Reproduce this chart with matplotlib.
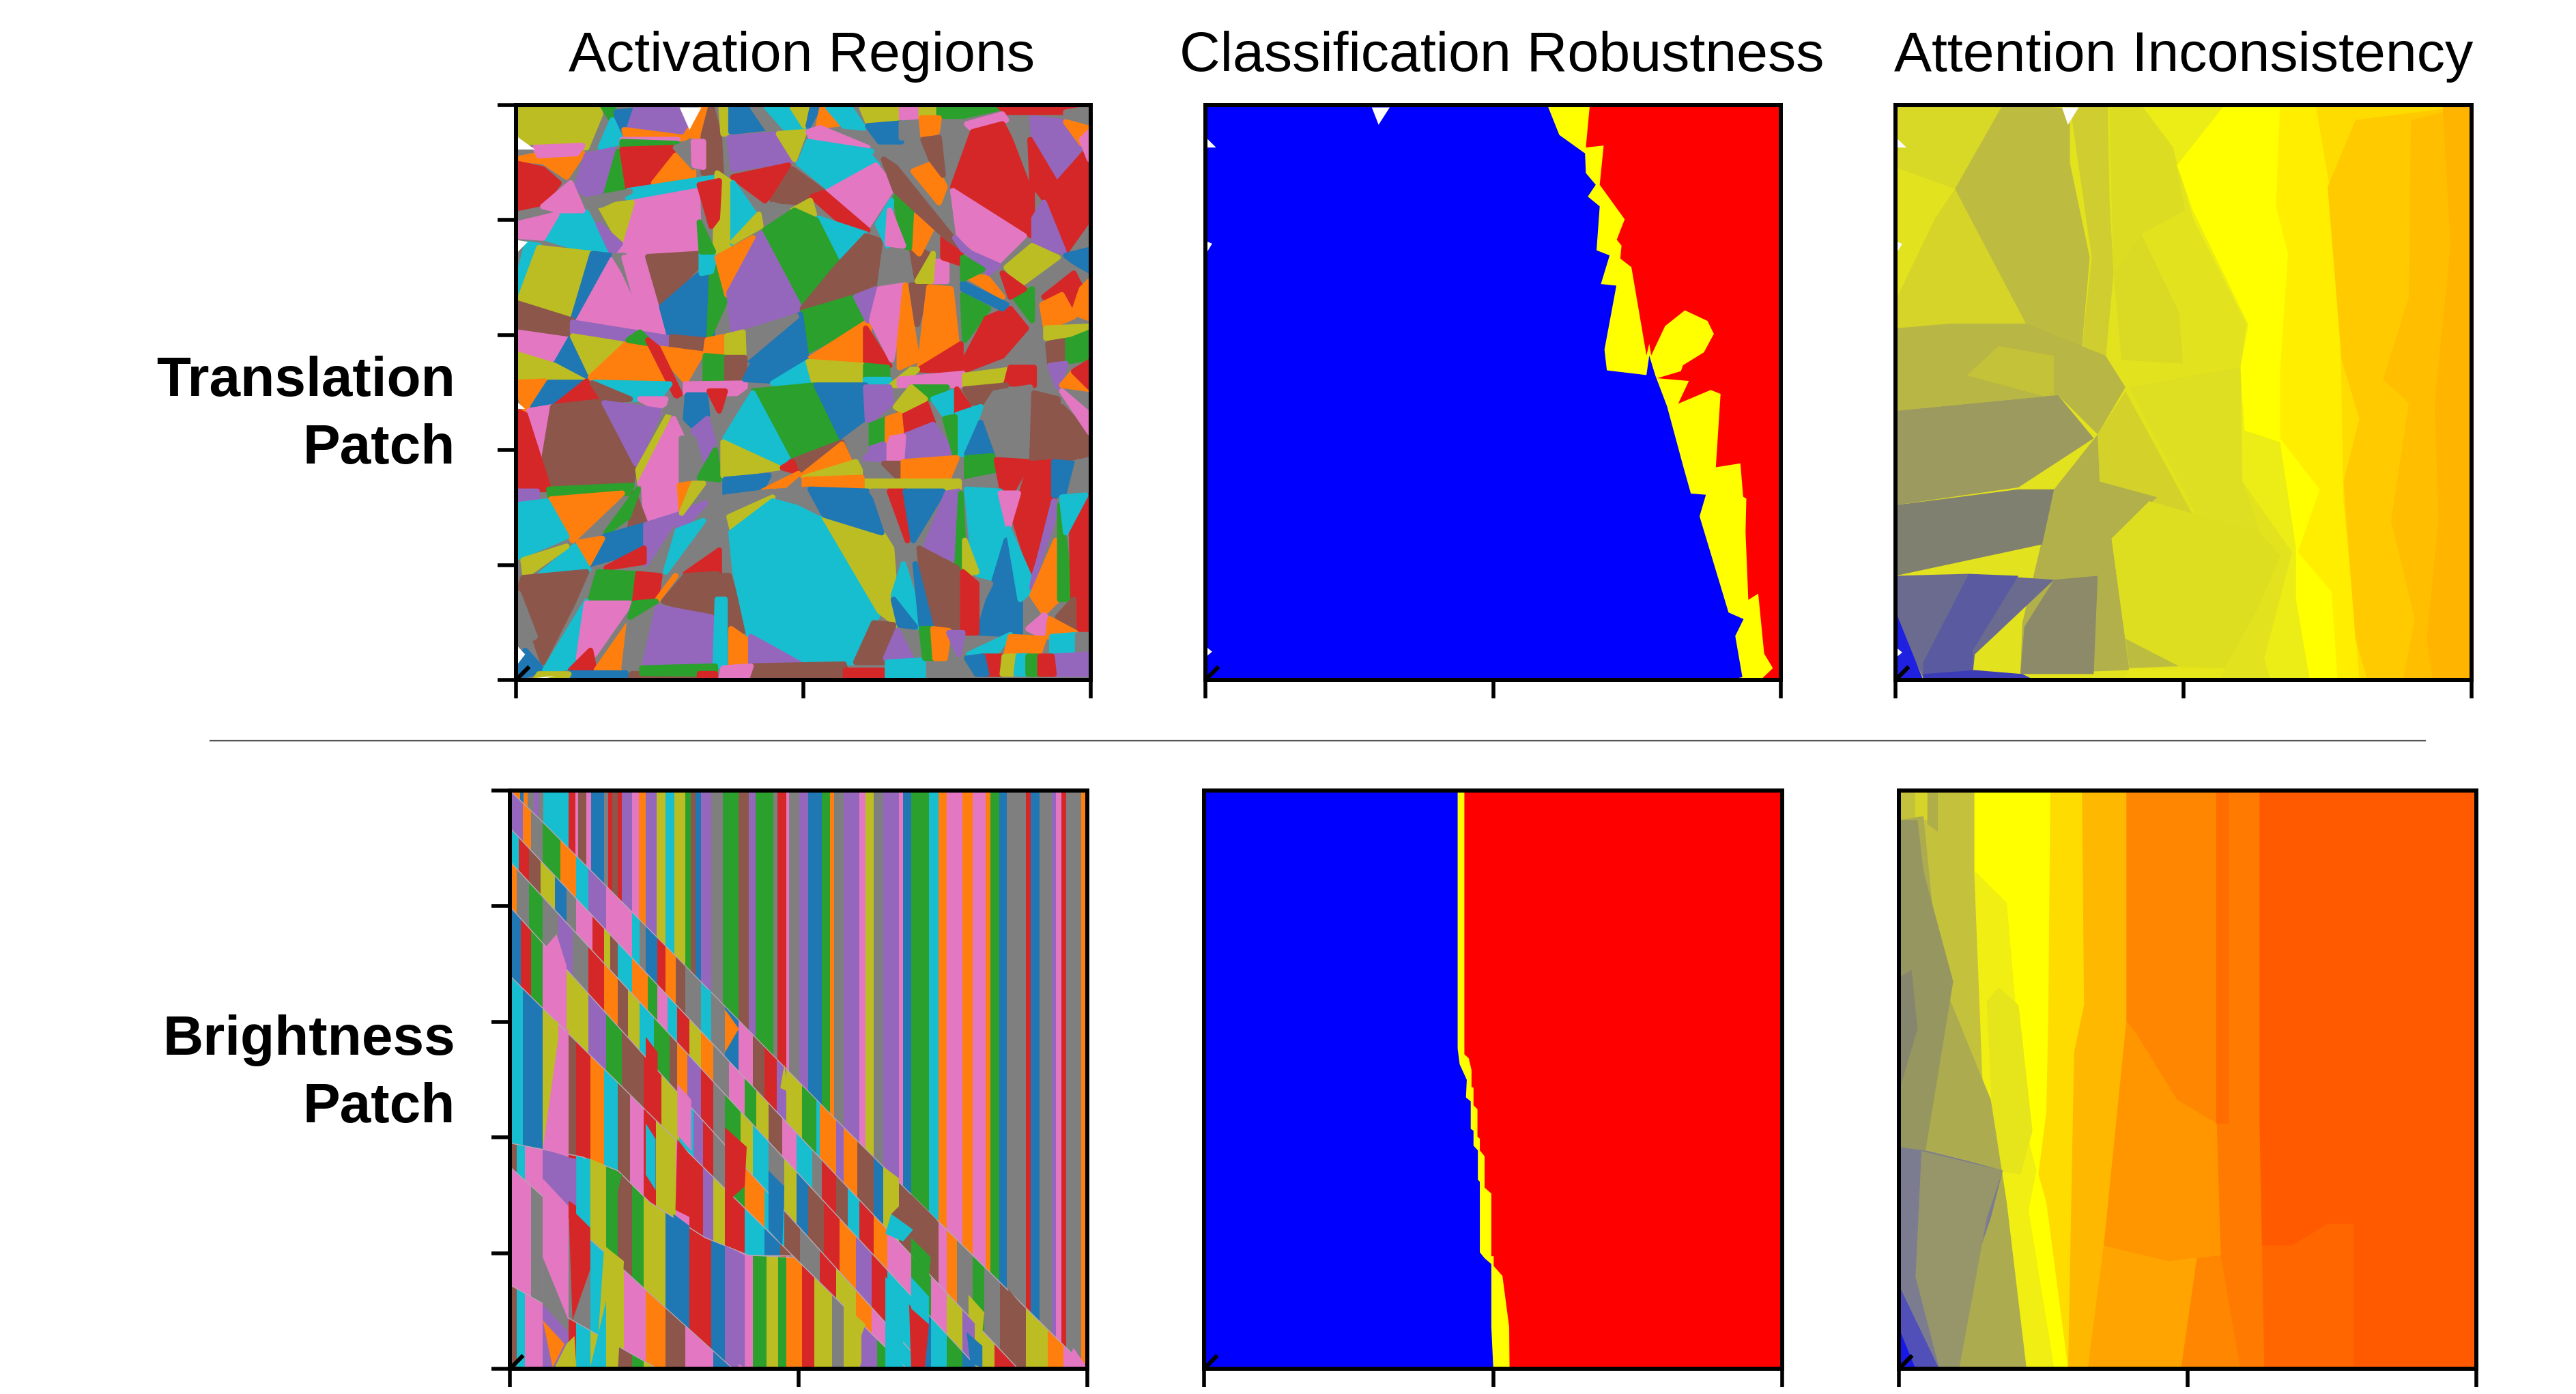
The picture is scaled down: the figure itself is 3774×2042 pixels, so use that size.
# -*- coding: utf-8 -*-
"""Activation regions / robustness / attention panels for two patch types."""
import matplotlib
matplotlib.use('Agg')
import matplotlib.pyplot as plt
from matplotlib.patches import Polygon
import numpy as np

plt.rcParams['font.family'] = ['Liberation Sans', 'DejaVu Sans']

W, H = 3774, 2042

COL_TITLES = ['Activation Regions', 'Classification Robustness', 'Attention Inconsistency']
ROW_TITLES = [('Translation', 'Patch'), ('Brightness', 'Patch')]

# region classes use the tab10 order
TAB = ['#1f77b4', '#ff7f0e', '#2ca02c', '#d62728', '#9467bd',
       '#8c564b', '#e377c2', '#7f7f7f', '#bcbd22', '#17becf']

# ---------------------------------------------------------------------------
# Translation patch, activation regions: (class, x0, y0, x1, y1, ...)
# ---------------------------------------------------------------------------
act_trans_lim = (62, 1513, 1505, 42)
act_trans_regions = [
    (7, 62,42, 1513,42, 1513,1505, 62,1505),
    (8, 62,42, 270,42, 275,65, 240,150, 62,150),
    (7, 62,155, 110,150, 120,170, 62,180),
    (1, 62,180, 110,170, 230,165, 190,225, 130,185),
    (3, 62,190, 130,205, 170,240, 130,295, 62,310),
    (6, 110,150, 230,145, 215,165, 120,170),
    (2, 280,42, 310,42, 300,75),
    (0, 315,60, 365,55, 335,105, 320,100),
    (9, 305,80, 330,135, 275,150),
    (4, 365,48, 475,48, 495,110, 440,130, 345,110),
    (1, 530,48, 545,48, 555,120, 490,120, 510,90),
    (1, 335,105, 490,125, 440,135, 345,135),
    (5, 555,42, 575,120, 580,220, 535,215, 535,120),
    (8, 580,48, 602,48, 600,115, 585,115),
    (0, 605,48, 650,48, 695,100, 605,110),
    (7, 660,48, 700,48, 770,110, 745,120, 695,100),
    (9, 695,48, 760,48, 790,100, 750,110),
    (8, 760,48, 810,48, 790,95),
    (0, 810,48, 825,48, 800,95),
    (1, 835,48, 875,90, 825,95),
    (9, 850,48, 905,48, 940,100, 890,95),
    (8, 935,48, 1035,48, 1030,85, 950,85),
    (6, 1035,50, 1085,50, 1085,75, 1035,75),
    (8, 1085,50, 1130,50, 1125,75, 1085,75),
    (2, 1130,50, 1280,50, 1190,70, 1130,70),
    (3, 1280,42, 1513,42, 1450,60, 1300,60),
    (7, 1450,60, 1510,50, 1510,100, 1450,80),
    (6, 1200,90, 1290,65, 1300,80, 1210,100),
    (0, 950,95, 1035,88, 1035,135, 980,135),
    (7, 1035,88, 1085,85, 1085,120, 1035,125),
    (1, 1085,75, 1130,75, 1125,110, 1090,120),
    (4, 600,125, 740,115, 770,180, 610,205),
    (8, 725,115, 790,110, 765,180),
    (6, 800,110, 830,100, 950,150, 810,130),
    (9, 800,135, 960,160, 780,185),
    (6, 330,130, 470,130, 330,155),
    (2, 330,135, 470,140, 465,150, 330,155),
    (3, 1165,250, 1215,110, 1290,90, 1365,240, 1365,375),
    (7, 1310,90, 1360,80, 1365,235),
    (4, 1365,75, 1450,85, 1505,120, 1430,240, 1370,130),
    (1, 1450,85, 1505,100, 1490,140),
    (3, 1360,130, 1425,240, 1395,280, 1365,240),
    (3, 1430,240, 1505,155, 1510,330, 1450,415, 1395,290),
    (6, 1490,130, 1510,110, 1510,180),
    (6, 1165,260, 1345,375, 1270,450, 1180,375),
    (4, 1370,330, 1395,290, 1445,415, 1370,400),
    (8, 1300,455, 1365,400, 1430,430, 1345,510),
    (0, 1450,425, 1510,410, 1510,470),
    (7, 1345,510, 1440,440, 1510,480, 1510,530, 1470,470, 1395,530),
    (3, 1395,530, 1470,470, 1490,510, 1470,570, 1410,540),
    (1, 1470,570, 1490,510, 1510,490, 1510,585),
    # second row of cells
    (4, 215,250, 240,170, 310,155, 290,265, 245,275),
    (2, 290,265, 320,160, 340,260),
    (3, 330,155, 465,150, 410,240, 345,255),
    (1, 410,240, 465,170, 510,205, 510,225),
    (7, 465,150, 510,135, 510,200),
    (6, 510,135, 535,135, 535,200, 512,195),
    (9, 345,260, 570,225, 570,240, 345,280),
    (9, 775,190, 950,165, 975,195, 860,260),
    (3, 610,225, 750,195, 720,255, 690,285),
    (5, 710,285, 760,205, 835,260, 790,290),
    (6, 845,265, 970,195, 1015,250, 950,350),
    (3, 810,275, 840,265, 950,360, 900,355),
    (7, 680,345, 710,295, 760,310),
    (8, 760,310, 805,285, 815,320),
    (9, 825,330, 945,370, 875,445),
    (2, 690,360, 765,310, 820,335, 875,445, 780,555),
    (6, 330,395, 355,290, 520,260, 525,420, 320,420),
    (8, 275,300, 355,290, 325,390),
    (7, 62,320, 280,275, 350,262, 280,295, 62,345),
    (9, 135,380, 165,320, 240,315, 295,420, 200,400),
    (6, 62,345, 165,320, 130,380, 62,375),
    (6, 130,300, 200,240, 230,310, 170,310),
    (9, 62,500, 90,395, 120,400, 70,520),
    (4, 270,345, 325,395, 305,420),
    (8, 70,540, 120,405, 255,420, 205,590),
    (0, 205,590, 255,420, 300,425),
    (6, 220,590, 305,435, 385,610),
    (7, 310,425, 335,425, 450,620, 430,620),
    (6, 335,430, 395,430, 450,630, 385,610),
    (5, 395,428, 527,420, 527,445, 430,550),
    (0, 430,555, 557,445, 557,630, 450,630),
    (2, 557,440, 595,530, 550,630),
    (9, 530,420, 565,420, 555,465, 530,470),
    (8, 570,215, 605,240, 605,400, 565,415),
    (3, 525,245, 575,235, 570,330, 555,350),
    (2, 525,340, 560,415, 530,415),
    (9, 610,240, 665,320, 610,395),
    (8, 610,390, 675,320, 680,350),
    (1, 570,430, 660,380, 610,500, 595,525),
    (4, 600,520, 680,370, 780,560, 610,620),
    (5, 785,560, 875,450, 920,520),
    (5, 880,445, 945,375, 990,390, 975,505, 920,525),
    (7, 995,395, 1050,470, 980,505),
    (2, 785,570, 920,530, 950,590, 795,670),
    (0, 640,690, 780,575, 795,685),
    (7, 640,620, 770,580, 640,690),
    (1, 800,690, 955,590, 945,700),
    (3, 945,610, 1005,705, 945,705),
    (4, 920,530, 970,510, 950,590),
    (6, 960,590, 980,510, 1045,500, 1010,690),
    (1, 1045,500, 1075,690, 1030,710, 1030,650),
    (5, 1060,500, 1100,500, 1075,600),
    (1, 1105,505, 1160,510, 1175,650, 1080,715),
    (3, 1080,715, 1185,650, 1185,720),
    (2, 1190,525, 1255,560, 1195,640),
    (3, 1195,690, 1250,585, 1310,560, 1350,610, 1290,680, 1200,715),
    (1, 1205,480, 1250,480, 1290,530),
    (0, 1190,495, 1300,550, 1290,560, 1190,510),
    (2, 1320,530, 1365,510, 1365,590),
    (1, 1390,550, 1440,525, 1470,580, 1400,610),
    (5, 1405,650, 1460,625, 1450,700, 1410,700),
    (2, 1455,620, 1510,615, 1510,685, 1455,695),
    (8, 1400,610, 1510,605, 1460,625, 1400,635),
    (5, 1060,400, 1100,420, 1075,490),
    (6, 1110,440, 1150,440, 1150,490, 1110,490),
    (8, 1075,490, 1115,420, 1110,490),
    (3, 1140,380, 1185,420, 1185,445, 1140,430),
    (1, 1060,320, 1115,350, 1080,420, 1060,400),
    (2, 1020,275, 1060,310, 1055,405, 1040,400),
    (9, 975,345, 1010,285, 1000,400),
    (6, 1005,310, 1040,400, 1000,395),
    (1, 1065,210, 1115,190, 1145,250, 1130,290),
    (5, 1090,130, 1130,125, 1140,220, 1110,180),
    (5, 990,180, 1020,200, 1180,400, 1150,380, 1020,260),
    (4, 1170,380, 1190,410, 1280,450, 1255,470),
    (2, 1190,430, 1240,460, 1190,485),
    (3, 1290,470, 1345,510, 1310,530),
    # middle
    (6, 62,610, 200,630, 160,700, 62,680),
    (5, 62,545, 205,590, 200,625, 62,605),
    (4, 205,595, 450,635, 450,660, 205,620),
    (5, 455,632, 540,640, 540,670, 455,660),
    (0, 200,635, 245,735, 160,705),
    (8, 205,630, 330,650, 250,725),
    (1, 250,735, 340,650, 410,655, 445,745),
    (2, 345,640, 375,620, 405,650),
    (1, 415,660, 530,675, 490,745),
    (3, 395,640, 420,660, 480,785, 465,780),
    (8, 62,675, 160,705, 235,745, 62,745),
    (1, 62,748, 135,745, 85,820),
    (0, 105,810, 145,748, 235,748, 160,805),
    (3, 165,805, 240,745, 275,800),
    (9, 260,748, 450,752, 420,790, 350,790),
    (5, 255,750, 350,790, 285,795),
    (6, 375,790, 440,790, 430,820),
    (1, 545,640, 595,630, 595,680, 540,680),
    (8, 595,630, 635,620, 637,685, 595,685),
    (2, 540,680, 595,685, 595,745, 540,745),
    (5, 595,685, 640,685, 640,745, 595,745),
    (6, 490,752, 640,750, 640,775, 490,778),
    (0, 640,740, 660,700, 795,690, 730,745),
    (9, 710,750, 800,695, 815,750),
    (8, 800,695, 940,705, 945,745, 815,750),
    (2, 945,705, 1000,710, 1000,740, 945,740),
    (9, 945,740, 1005,740, 1005,755, 945,755),
    (8, 1010,755, 1060,715, 1075,715, 1030,755),
    (6, 1030,740, 1190,725, 1190,755, 1030,755),
    (8, 1195,730, 1310,715, 1280,750, 1195,755),
    (3, 1300,750, 1310,710, 1370,710, 1370,755),
    (4, 1410,705, 1450,700, 1430,760),
    (7, 1435,770, 1510,765, 1510,830),
    (1, 1440,755, 1470,720, 1510,765),
    (3, 1470,720, 1510,695, 1510,760),
    (5, 1195,765, 1300,755, 1235,800, 1215,800),
    (2, 1060,760, 1150,760, 1110,790),
    (7, 1235,830, 1270,775, 1360,760, 1365,945, 1270,940),
    (5, 1370,775, 1430,790, 1430,945, 1365,945),
    (5, 1440,810, 1510,880, 1510,930, 1440,945),
    (6, 1440,770, 1510,830, 1510,875),
    (9, 1115,790, 1170,770, 1175,820, 1150,840),
    (3, 1175,765, 1205,810, 1175,825),
    (3, 1030,820, 1095,795, 1115,850, 1040,880),
    (8, 1020,810, 1060,760, 1095,790, 1035,820),
    (2, 660,770, 815,755, 880,890, 750,945),
    (0, 820,755, 945,755, 945,850, 885,890),
    (4, 945,760, 1005,760, 1010,800, 950,850),
    (7, 590,880, 650,770, 610,800),
    (9, 590,890, 660,775, 750,945, 725,965),
    (2, 950,860, 1000,840, 1000,905, 950,925),
    (1, 1000,840, 1030,830, 1035,880, 1000,900),
    (4, 1040,885, 1115,855, 1170,935, 1040,940),
    (6, 990,950, 1010,890, 1040,885, 1035,955),
    (4, 945,920, 990,905, 990,955, 945,955),
    (7, 885,900, 945,855, 945,920, 915,945),
    (9, 1175,830, 1235,810, 1195,930, 1175,930),
    (0, 1200,930, 1235,850, 1265,935),
    (2, 1200,940, 1265,935, 1275,980, 1200,990),
    (7, 1200,1000, 1275,985, 1285,1020, 1200,1020),
    (3, 1275,945, 1355,950, 1315,1025, 1290,1025),
    (3, 1320,1095, 1360,955, 1420,950, 1420,1040, 1365,1240),
    (0, 1420,950, 1475,955, 1445,1035, 1420,1035),
    (7, 1460,1030, 1480,950, 1510,950, 1510,1035),
    (2, 1145,840, 1170,835, 1170,930),
    # left and centre
    (6, 95,820, 155,810, 130,950),
    (5, 155,810, 285,795, 365,960, 350,1015, 135,1015, 130,960),
    (4, 285,800, 425,820, 365,955),
    (3, 62,820, 85,830, 145,1020, 62,1020),
    (8, 370,970, 450,825, 375,1005),
    (6, 375,1005, 460,840, 485,895, 480,1000),
    (7, 435,820, 490,785, 480,830),
    (0, 495,780, 540,780, 545,830, 510,860, 490,840),
    (3, 550,770, 590,770, 575,820),
    (4, 510,870, 545,840, 560,900, 540,960),
    (7, 480,890, 510,890, 530,960, 480,1000),
    (2, 525,990, 565,920, 575,995),
    (8, 585,900, 725,965, 585,985),
    (5, 755,950, 885,900, 900,940, 780,980),
    (1, 785,985, 885,905, 905,950),
    (3, 735,965, 760,950, 770,975),
    (8, 790,990, 920,950, 940,990),
    (7, 945,955, 1000,960, 1000,1000, 945,990),
    (5, 990,955, 1035,955, 1035,1000),
    (1, 1040,950, 1175,940, 1150,1000, 1040,1000),
    (8, 945,1000, 1180,1000, 1180,1020, 945,1020),
    (1, 790,995, 935,990, 935,1020, 790,1020),
    (0, 590,995, 700,985, 680,1025, 590,1030),
    (1, 685,1025, 775,980, 735,1015),
    (7, 590,1040, 710,1025, 600,1090),
    (2, 145,1020, 355,1010, 345,1030, 150,1045),
    (4, 62,1025, 115,1025, 115,1050, 62,1055),
    (1, 150,1045, 330,1030, 205,1150),
    (9, 62,1060, 140,1050, 190,1140, 62,1195),
    (6, 385,1015, 470,1010, 470,1080, 390,1110),
    (5, 360,1030, 390,1110, 350,1120),
    (2, 290,1130, 370,1020, 345,1090),
    (0, 250,1210, 285,1140, 390,1110, 390,1170),
    (1, 220,1155, 280,1145, 245,1210),
    (9, 125,1235, 210,1165, 245,1225),
    (8, 80,1200, 190,1165, 85,1240),
    (4, 390,1110, 470,1085, 390,1210),
    (1, 475,1010, 510,1005, 480,1080),
    (4, 470,1085, 540,1055, 470,1130),
    (8, 510,1005, 535,1005, 480,1080),
    (7, 490,1230, 535,1100, 580,1095, 575,1170),
    (9, 440,1230, 535,1100, 470,1125),
    (3, 490,1235, 575,1175, 575,1235),
    (3, 290,1220, 385,1170, 385,1205),
    (2, 250,1300, 270,1230, 370,1235, 360,1305),
    (5, 68,1280, 80,1245, 240,1230, 205,1310, 130,1460),
    (3, 370,1235, 425,1240, 415,1305, 362,1305),
    (1, 420,1300, 465,1240, 435,1280),
    (5, 435,1305, 490,1240, 570,1235, 560,1345),
    (5, 570,1240, 600,1240, 640,1380, 570,1380),
    (8, 600,1090, 710,1040, 610,1130),
    (9, 605,1130, 710,1050, 840,1085, 980,1330, 915,1460, 810,1465, 650,1390, 615,1230),
    (8, 840,1090, 985,1130, 1010,1170, 1025,1365, 980,1330),
    (7, 720,1025, 800,1020, 830,1080),
    (0, 805,1020, 950,1025, 985,1130, 840,1085),
    (7, 960,1025, 1005,1025, 1010,1130, 985,1060),
    (3, 1005,1025, 1045,1025, 1050,1150),
    (0, 1045,1025, 1140,1025, 1065,1150),
    (4, 1095,1170, 1150,1030, 1180,1025, 1175,1200),
    (2, 1185,1030, 1195,1230, 1175,1225),
    (9, 1200,1020, 1285,1025, 1300,1120, 1260,1260, 1220,1230),
    (6, 1285,1030, 1330,1030, 1305,1115),
    (8, 1195,1150, 1225,1230, 1195,1235),
    (0, 1230,1385, 1300,1150, 1335,1300, 1335,1390),
    (7, 1225,1250, 1260,1260, 1225,1330),
    (5, 1080,1170, 1175,1220, 1190,1385, 1100,1365),
    (3, 1190,1230, 1225,1260, 1225,1385, 1190,1385),
    (9, 1305,1120, 1370,1270, 1335,1300),
    (4, 1370,1240, 1420,1090, 1420,1050, 1365,1270),
    (1, 1365,1290, 1425,1150, 1430,1300, 1395,1335),
    (2, 1435,1060, 1465,1300, 1435,1300),
    (3, 1465,1120, 1510,1035, 1510,1385, 1470,1370),
    (9, 1440,1040, 1500,1035, 1450,1130),
    (5, 1430,1345, 1470,1300, 1470,1385),
    (6, 1355,1375, 1395,1340, 1430,1375, 1385,1390),
    (1, 1410,1350, 1475,1385, 1405,1395),
    # bottom
    (7, 62,1290, 68,1285, 110,1395, 62,1420),
    (0, 62,1475, 85,1430, 130,1480, 62,1500),
    (9, 135,1480, 240,1305, 220,1470),
    (6, 220,1450, 240,1310, 350,1310, 260,1440),
    (3, 200,1480, 250,1430, 260,1480),
    (1, 265,1480, 345,1365, 335,1475),
    (7, 335,1475, 350,1345, 410,1310, 385,1475),
    (4, 385,1475, 420,1320, 555,1345, 565,1470),
    (2, 360,1310, 415,1305, 350,1345),
    (9, 570,1300, 590,1300, 590,1470, 565,1470),
    (1, 605,1375, 655,1410, 655,1465, 605,1465),
    (4, 655,1395, 780,1465, 655,1465),
    (5, 650,1470, 890,1465, 900,1505, 650,1505),
    (3, 895,1480, 1010,1480, 1010,1505, 895,1505),
    (5, 920,1460, 965,1360, 1015,1365, 990,1460),
    (4, 995,1450, 1025,1380, 1060,1450),
    (9, 1000,1460, 1090,1455, 1090,1505, 1000,1505),
    (9, 1015,1290, 1040,1210, 1090,1370, 1070,1370),
    (0, 1015,1300, 1070,1370, 1030,1365),
    (0, 1070,1210, 1110,1370, 1085,1365),
    (2, 1085,1375, 1115,1375, 1115,1450, 1095,1450),
    (1, 1115,1375, 1155,1380, 1145,1450, 1120,1450),
    (4, 1155,1385, 1190,1385, 1180,1440),
    (9, 1205,1440, 1310,1390, 1270,1440),
    (1, 1300,1440, 1310,1395, 1395,1400, 1380,1445),
    (9, 1415,1395, 1480,1390, 1480,1440, 1415,1440),
    (7, 1480,1390, 1510,1390, 1510,1440, 1480,1440),
    (4, 1420,1445, 1510,1440, 1510,1490, 1420,1490),
    (3, 1240,1445, 1295,1445, 1290,1490, 1245,1490),
    (8, 1295,1445, 1325,1445, 1315,1490, 1290,1490),
    (9, 1330,1445, 1355,1445, 1355,1490, 1325,1490),
    (2, 1355,1445, 1380,1445, 1385,1490, 1355,1490),
    (3, 1385,1445, 1415,1445, 1420,1490, 1385,1490),
    (0, 1200,1450, 1240,1445, 1250,1490, 1225,1490),
    (6, 585,1475, 655,1470, 645,1500, 580,1500),
    (0, 195,1488, 340,1488, 340,1505, 180,1505),
    (5, 355,1490, 520,1490, 520,1505, 350,1505),
    (8, 120,1490, 195,1490, 185,1505, 110,1505),
    (2, 380,1475, 565,1470, 565,1490, 380,1488),
    (3, 525,1490, 565,1490, 565,1505, 525,1505),
]
act_trans_white = [
    (475,48, 530,48, 500,105),
    (62,120, 110,155, 62,155),
    (62,385, 92,390, 62,420),
    (62,795, 85,815, 62,815),
    (62,1415, 85,1440, 62,1470),
    (110,1500, 160,1495, 120,1505),
]

# ---------------------------------------------------------------------------
# Translation patch, robustness: boundaries top to bottom
# ---------------------------------------------------------------------------
rob_trans_lim = (45, 1497, 1507, 42)
rob_trans_blue = [(908,42), (938,118), (1003,165), (1005,215), (1030,245), (1010,275), (1040,300),
                  (1032,412), (1065,425), (1043,498), (1082,502), (1052,665), (1058,718), (1158,730),
                  (1165,680), (1180,730), (1210,810), (1250,960), (1270,1032), (1308,1035), (1292,1090),
                  (1365,1335), (1403,1352), (1382,1395), (1400,1500), (1360,1507)]
rob_trans_yellow = [(1015,42), (1005,150), (1050,145), (1040,245), (1103,333), (1083,385), (1095,400),
                    (1092,433), (1120,455), (1158,680), (1165,650), (1170,680), (1205,605), (1255,565),
                    (1312,592), (1328,625), (1303,672), (1250,705), (1245,720), (1185,738), (1265,745),
                    (1238,803), (1320,768), (1345,778), (1333,965), (1395,955), (1402,1040), (1410,1045),
                    (1408,1130), (1415,1303), (1440,1287), (1455,1440), (1477,1477), (1450,1503), (1360,1507)]
rob_trans_white = [(465,48, 510,48, 482,92), (50,128, 72,150, 50,150), (50,390, 62,395, 50,415),
                   (50,1425, 62,1435, 50,1445)]

# ---------------------------------------------------------------------------
# Translation patch, attention: (colour, x0, y0, ...) painted in order
# ---------------------------------------------------------------------------
att_trans_lim = (30, 1483, 1505, 42)
att_trans_regions = [
    ('#e2e21e', 30,42, 1483,42, 1483,1505, 30,1505),
    ('#ecec16', 650,42, 1483,42, 1483,1505, 975,1505, 960,1450, 1030,1180, 905,1000, 900,710, 915,600, 780,330, 730,150),
    ('#ffff00', 860,42, 1483,42, 1483,1505, 1075,1505, 1040,1300, 1040,1170, 1000,900, 910,870, 900,710, 920,600, 780,310, 740,195),
    ('#ffee00', 1000,42, 1483,42, 1483,1505, 1145,1505, 1130,1280, 1045,1180, 1100,1020, 1000,890, 1000,720, 1020,420, 990,300),
    ('#ffdc00', 1090,42, 1483,42, 1483,1505, 1200,1505, 1190,1370, 1160,1050, 1150,500, 1125,250),
    ('#ffca00', 1190,80, 1483,42, 1483,1505, 1220,1505, 1190,1400, 1160,1000, 1200,840, 1155,690, 1120,250),
    ('#ffbe00', 1330,80, 1483,42, 1483,1505, 1310,1505, 1340,1350, 1280,1100, 1325,800, 1260,740, 1325,530),
    ('#ffb400', 1410,42, 1483,42, 1483,1505, 1385,1505, 1370,1400, 1400,1100, 1390,800, 1430,400),
    ('#d8d826', 30,42, 300,42, 180,255, 30,200),
    ('#bdbb40', 300,42, 470,50, 470,190, 520,430, 500,660, 350,600, 180,255),
    ('#cfcd30', 470,42, 565,42, 570,290, 580,470, 560,690, 500,660, 525,430),
    ('#d6d428', 30,540, 130,330, 180,255, 360,600, 170,600, 30,620),
    ('#dcdc22', 570,50, 650,42, 730,150, 760,310, 650,370, 580,470),
    ('#dada24', 580,470, 650,370, 745,570, 755,700, 600,690),
    ('#b8b644', 30,610, 170,598, 360,598, 560,680, 610,760, 540,880, 440,780, 30,820),
    ('#c4c238', 210,730, 290,655, 430,680, 430,790),
    ('#9c9a5e', 30,820, 440,780, 530,890, 340,1015, 30,1060),
    ('#d4d22a', 610,770, 780,1085, 670,1050, 545,1000, 540,880),
    ('#dede22', 620,760, 900,710, 905,1000, 950,1130, 790,1085),
    ('#b2b04a', 430,1020, 540,880, 545,1000, 690,1040, 575,1145, 620,1480, 345,1490, 350,1360),
    ('#808070', 30,1060, 340,1020, 430,1020, 400,1160, 30,1240),
    ('#8c8a68', 345,1490, 355,1370, 430,1250, 540,1240, 530,1490),
    ('#6b6b90', 30,1240, 210,1235, 430,1250, 230,1440, 225,1490, 100,1500, 30,1350),
    ('#5a5aa0', 100,1460, 215,1235, 340,1240, 225,1430, 225,1490, 100,1505),
    ('#3c3cb8', 100,1490, 230,1480, 350,1490, 380,1505, 100,1505),
    ('#2020e0', 30,1330, 100,1505, 30,1505),
    ('#dede20', 575,1145, 670,1050, 950,1130, 1000,1190, 940,1330, 860,1475, 745,1470, 610,1400),
    ('#bcbc40', 610,1400, 745,1470, 620,1475),
    ('#e6e61a', 620,1475, 860,1475, 850,1505, 605,1505),
]
att_trans_white = [(450,48, 492,48, 465,92), (35,128, 58,150, 35,150), (35,390, 47,395, 35,415),
                   (35,1425, 47,1435, 35,1445)]

# ---------------------------------------------------------------------------
# Brightness patch, activation regions: stripes are (start x, class)
# ---------------------------------------------------------------------------
act_bright_lim = (47, 1505, 1503, 35)
act_bright_top = [
    (47,6), (58,1), (72,0), (82,1), (92,7), (108,4), (120,7), (132,9), (195,3), (212,6), (220,5),
    (240,6), (252,0), (285,7), (295,3), (305,5), (320,3), (330,4), (355,6), (372,1), (390,4), (418,8),
    (440,9), (462,8), (490,2), (503,5), (515,0), (530,4), (556,7), (585,2), (625,5), (650,4), (668,2),
    (712,7), (722,3), (745,6), (752,7), (778,4), (800,0), (835,2), (855,1), (865,7), (890,4), (930,6),
    (945,8), (965,7), (990,4), (1030,6), (1040,0), (1060,2), (1105,9), (1130,1), (1150,6), (1190,1),
    (1215,6), (1248,1), (1260,2), (1282,0), (1302,7), (1350,3), (1362,0), (1385,7), (1415,4), (1425,6),
    (1440,3), (1452,7), (1490,1), (1500,3),
]
# bands below the main diagonal: clip outline, then its stripes
act_bright_clip_a = [(47,35), (120,105), (490,480), (870,870), (1130,1130), (1505,1503), (1330,1503), (47,130)]
act_bright_a = [
    (47,4), (80,1), (100,7), (130,2), (175,1), (215,9), (245,4), (290,6), (330,6), (355,9), (375,7),
    (390,0), (420,3), (440,1), (465,5), (490,7), (530,9), (555,7), (590,0), (625,6), (660,5), (690,3),
    (720,4), (745,8), (785,2), (820,9), (830,1), (870,4), (890,1), (925,5), (965,0), (990,8), (1030,5),
    (1130,6), (1150,1), (1175,7), (1215,2), (1245,7), (1285,5), (1350,8), (1405,1), (1445,6),
]
act_bright_clip_b = [(47,130), (1330,1503), (1230,1503), (47,215)]
act_bright_b = [
    (47,9), (70,3), (95,5), (125,8), (160,0), (190,7), (215,6), (255,3), (285,8), (300,5), (320,9),
    (355,1), (395,2), (420,6), (445,9), (470,3), (500,8), (530,1), (560,7), (600,6), (640,2), (670,8),
    (700,5), (735,6), (770,9), (810,7), (835,3), (870,5), (900,9), (930,3), (965,1), (1000,6), (1060,2),
    (1110,6), (1150,8), (1190,4), (1220,8), (1270,3),
]
act_bright_clip_c = [(47,215), (1230,1503), (1100,1503), (47,330)]
act_bright_c = [
    (47,1), (65,7), (95,2), (130,7), (170,4), (205,7), (245,3), (285,1), (320,5), (345,8), (375,9),
    (410,2), (450,5), (470,1), (495,4), (530,3), (560,7), (590,2), (630,8), (660,9), (700,7), (740,8),
    (770,0), (800,5), (840,3), (880,1), (920,4), (960,3), (1000,9), (1060,0), (1110,9), (1150,2), (1190,0),
]
act_bright_clip_d = [(47,330), (1100,1503), (1050,1503), (47,505)]
act_bright_d = [
    (47,0), (75,3), (100,2), (130,6), (190,8), (245,4), (290,2), (330,5), (385,3), (430,8), (475,9),
    (510,4), (535,3), (560,7), (600,2), (640,1), (690,9), (740,5), (780,7), (830,3), (870,8), (920,1),
    (960,6), (1020,9),
]
act_bright_clip_e = [(47,505), (1050,1503), (1050,1220), (650,1215), (540,1170), (400,1080), (320,1000),
                     (230,965), (47,930)]
act_bright_e = [
    (47,9), (80,0), (130,8), (170,6), (195,5), (215,3), (250,1), (285,9), (320,5), (350,6), (385,3),
    (415,8), (465,6), (500,3), (535,4), (560,8), (590,3), (640,9), (690,0), (730,5), (780,7), (830,3),
    (860,5), (920,1), (960,8), (1000,6),
]
act_bright_clip_f = [(47,930), (230,965), (320,1000), (400,1080), (540,1170), (650,1215), (760,1220),
                     (900,1205), (1050,1185), (1130,1130), (1505,1503), (47,1503)]
act_bright_f = [
    (47,5), (65,9), (85,6), (130,4), (195,3), (215,9), (250,8), (290,2), (320,5), (355,2), (385,8), (440,0),
    (500,3), (555,0), (590,4), (625,6), (660,2), (695,8), (725,2), (745,1), (785,3), (815,8), (860,7),
    (890,8), (935,4), (975,2), (1000,9), (1060,3), (1105,6), (1150,7), (1190,1), (1230,9), (1290,5),
]
act_bright_clip_g = [(47,990), (610,1503), (420,1503), (47,1290)]
act_bright_g = [
    (47,6), (100,7), (130,6), (195,7), (250,9), (290,8), (335,6), (390,1), (440,5), (490,6), (560,0),
]
# wedge shaped cells lying over the stripes
act_bright_wedges = [
    (6, 130,945, 170,660, 195,640, 195,965),
    (8, 130,630, 170,620, 130,900),
    (6, 130,440, 165,400, 190,480, 190,590, 175,600, 130,540),
    (4, 130,955, 215,970, 215,1090, 130,1030),
    (9, 215,970, 250,970, 250,1140, 215,1100),
    (8, 250,970, 285,985, 285,1180, 250,1140),
    (2, 290,990, 330,1010, 290,1170),
    (6, 130,1020, 195,1090, 195,1390, 130,1200),
    (7, 130,1220, 195,1380, 195,1410, 130,1340),
    (3, 195,1090, 250,1145, 250,1250, 205,1380),
    (8, 285,1190, 335,1230, 320,1500, 265,1500),
    (9, 250,1500, 290,1330, 290,1500),
    (4, 590,1190, 640,1215, 640,1500, 590,1470),
    (0, 560,1250, 590,1195, 590,1430, 560,1420),
    (0, 460,1110, 500,1140, 500,1370, 460,1340),
    (3, 470,920, 505,965, 505,1120, 465,1100),
    (6, 470,780, 505,820, 505,950, 470,910),
    (3, 590,890, 645,940, 640,1040, 590,1085),
    (9, 390,880, 415,920, 415,1050, 390,1010),
    (3, 390,660, 420,700, 420,810, 390,850),
    (0, 700,1000, 740,1040, 735,1190, 700,1150),
    (9, 995,1270, 1040,1310, 1040,1500, 995,1500),
    (3, 1055,1340, 1105,1390, 1095,1500, 1060,1500),
    (8, 890,1340, 945,1390, 905,1500, 890,1500),
    (4, 930,1500, 950,1440, 975,1500),
    (5, 1060,1060, 1125,1125, 1065,1170, 1010,1110),
    (9, 995,1160, 1010,1110, 1065,1150, 1040,1180),
    (6, 1450,1500, 1470,1450, 1505,1500),
    (5, 1305,1300, 1350,1355, 1320,1410),
    (8, 1205,1315, 1245,1360, 1240,1410, 1205,1370),
    (0, 1200,1410, 1240,1445, 1240,1500, 1210,1490),
    (9, 1060,1270, 1105,1320, 1105,1390, 1060,1350),
    (8, 990,990, 1030,1020, 1010,1110, 990,1070),
    (2, 1060,1170, 1110,1220, 1105,1270, 1060,1215),
    (7, 535,530, 590,590, 590,650, 555,620),
    (9, 530,530, 555,545, 555,620, 530,590),
    (1, 590,590, 625,640, 590,700),
    (8, 740,730, 750,800, 730,790),
    (1, 130,1380, 185,1440, 155,1500),
    (8, 190,1440, 210,1420, 215,1500, 160,1500),
]

# ---------------------------------------------------------------------------
# Brightness patch, robustness
# ---------------------------------------------------------------------------
rob_bright_lim = (42, 1501, 1507, 32)
rob_bright_blue = [(682,32), (682,690), (687,730), (705,770), (703,815), (715,825), (715,895), (722,900),
                   (722,938), (733,950), (733,1025), (738,1030), (738,1210), (750,1225), (767,1240),
                   (767,1400), (772,1507)]
rob_bright_yellow = [(699,32), (699,705), (710,715), (717,745), (717,788), (722,790), (722,835), (732,845),
                     (732,915), (738,920), (738,950), (750,965), (750,1045), (767,1060), (767,1220),
                     (773,1220), (773,1245), (795,1270), (812,1400), (813,1507)]

# ---------------------------------------------------------------------------
# Brightness patch, attention
# ---------------------------------------------------------------------------
att_bright_lim = (38, 1495, 1503, 35)
att_bright_regions = [
    ('#ff5a00', 38,35, 1495,35, 1495,1503, 38,1503),
    ('#ff6600', 950,1190, 1030,1190, 1120,1135, 1185,1135, 1185,1503, 960,1503),
    ('#ff7a00', 38,35, 948,35, 948,880, 960,1503, 38,1503),
    ('#ff8600', 38,35, 838,35, 838,880, 850,1215, 900,1503, 38,1503),
    ('#ff6c00', 838,35, 870,35, 870,880, 838,880),
    ('#ff9600', 636,650, 740,820, 840,880, 850,1215, 720,1230, 555,1190, 612,620),
    ('#ffa400', 555,1190, 720,1230, 790,1220, 750,1503, 515,1503),
    ('#ffb800', 38,35, 612,35, 612,620, 555,1190, 515,1503, 38,1503),
    ('#ffdc00', 38,35, 500,35, 505,580, 480,700, 465,1503, 38,1503),
    ('#ffff00', 38,35, 420,35, 415,600, 410,850, 390,1010, 410,1080, 465,1503, 38,1503),
    ('#f0ee12', 38,35, 230,35, 230,240, 310,320, 360,900, 385,1000, 365,1100, 430,1503, 38,1503),
    ('#e6e41a', 260,570, 290,535, 340,580, 375,900, 345,1010, 280,1000),
    ('#c4c23c', 38,35, 228,35, 228,240, 250,800, 360,1503, 38,1503),
    ('#d6d428', 80,35, 110,35, 110,110, 80,110),
    ('#b0ae48', 110,35, 136,35, 136,140, 110,120),
    ('#adab50', 38,110, 100,100, 140,500, 270,820, 310,1080, 360,1503, 140,1503, 38,940),
    ('#969660', 38,110, 85,110, 100,240, 175,520, 105,950, 38,940),
    ('#86866e', 38,510, 70,490, 85,640, 38,800),
    ('#7c7c90', 38,940, 110,950, 230,980, 300,1000, 270,1120, 140,1503, 38,1290),
    ('#96966a', 95,950, 300,1000, 260,1120, 190,1503, 140,1503, 80,1270),
    ('#5050b8', 38,1290, 140,1503, 38,1503),
    ('#1818e8', 38,1400, 80,1503, 38,1503),
]

TICK_LEN = 19.5
AXIS_LW = 4.3


def corners(flat):
    return np.array(flat, dtype=float).reshape(-1, 2)


def make_axes(fig, left, top, right, bottom, lim, yticks=False):
    ax = fig.add_axes([left / W, 1 - bottom / H, (right - left) / W, (bottom - top) / H])
    ax.set_xlim(lim[0], lim[1])
    ax.set_ylim(lim[2], lim[3])
    ax.set_xticks(np.linspace(lim[0], lim[1], 3))
    ax.set_yticks(np.linspace(lim[2], lim[3], 6) if yticks else [])
    ax.set_xticklabels([])
    ax.set_yticklabels([])
    ax.tick_params(length=TICK_LEN, width=4.0, color='black')
    for s in ax.spines.values():
        s.set_linewidth(AXIS_LW)
        s.set_zorder(20)
    # short diagonal mark at the origin corner
    ax.plot([0, 0.023], [0, 0.023], transform=ax.transAxes, color='black', lw=4.3, zorder=21,
            clip_on=False, solid_capstyle='butt')
    return ax


def draw_regions(ax, regions, palette=None, grow=0):
    for reg in regions:
        col = palette[reg[0]] if palette else reg[0]
        if grow:
            ax.add_patch(Polygon(corners(reg[1:]), closed=True, facecolor=col, edgecolor=col,
                                 lw=grow, joinstyle='round'))
        else:
            ax.add_patch(Polygon(corners(reg[1:]), closed=True, facecolor=col, edgecolor='none'))


def draw_white(ax, triangles):
    for tri in triangles:
        ax.add_patch(Polygon(corners(tri), closed=True, facecolor='white', edgecolor='none', zorder=5))


def draw_stripes(ax, stripes, clip=None):
    xmax = ax.get_xlim()[1]
    starts = [s[0] for s in stripes] + [xmax]
    clip_patch = None
    if clip is not None:
        clip_patch = Polygon(clip, closed=True, transform=ax.transData)
    for i, (x0, cls) in enumerate(stripes):
        sp = ax.axvspan(x0, starts[i + 1], facecolor=TAB[cls], edgecolor='none')
        if clip_patch is not None:
            sp.set_clip_path(clip_patch)
    if clip is not None:
        ax.add_patch(Polygon(clip, closed=True, facecolor='none', edgecolor='#b8a8b4', lw=0.9))


def draw_robustness(ax, lim, blue, yellow):
    ax.set_facecolor('#ff0000')
    x0, x1, y0, y1 = lim
    ax.add_patch(Polygon([(x0, y1)] + yellow + [(x0, y0)], closed=True, facecolor='#ffff00', edgecolor='none'))
    ax.add_patch(Polygon([(x0, y1)] + blue + [(x0, y0)], closed=True, facecolor='#0000ff', edgecolor='none'))


fig = plt.figure(figsize=(W / 100, H / 100), dpi=100)

# top row
ax = make_axes(fig, 756, 154, 1598, 996, act_trans_lim, yticks=True)
draw_regions(ax, act_trans_regions, TAB, grow=6)
draw_white(ax, act_trans_white)

ax = make_axes(fig, 1766, 154, 2609, 996, rob_trans_lim)
draw_robustness(ax, rob_trans_lim, rob_trans_blue, rob_trans_yellow)
draw_white(ax, rob_trans_white)

ax = make_axes(fig, 2777, 154, 3621, 996, att_trans_lim)
draw_regions(ax, att_trans_regions)
draw_white(ax, att_trans_white)

# bottom row
ax = make_axes(fig, 747, 1158, 1593, 2005, act_bright_lim, yticks=True)
draw_stripes(ax, act_bright_top)
for clip, stripes in [(act_bright_clip_f, act_bright_f), (act_bright_clip_e, act_bright_e),
                      (act_bright_clip_g, act_bright_g), (act_bright_clip_a, act_bright_a),
                      (act_bright_clip_b, act_bright_b), (act_bright_clip_c, act_bright_c),
                      (act_bright_clip_d, act_bright_d)]:
    draw_stripes(ax, stripes, clip)
draw_regions(ax, act_bright_wedges, TAB)

ax = make_axes(fig, 1764, 1158, 2611, 2005, rob_bright_lim)
draw_robustness(ax, rob_bright_lim, rob_bright_blue, rob_bright_yellow)

ax = make_axes(fig, 2782, 1158, 3628, 2005, att_bright_lim)
draw_regions(ax, att_bright_regions)

# column and row headings
for cx, title in zip([1175, 2200, 3199], COL_TITLES):
    fig.text(cx / W, 1 - 104 / H, title, ha='center', va='baseline', fontsize=59.4)
for base, lines in zip([580, 1545], ROW_TITLES):
    fig.text(667 / W, 1 - base / H, lines[0], ha='right', va='baseline', fontsize=59, fontweight='bold')
    fig.text(667 / W, 1 - (base + 99) / H, lines[1], ha='right', va='baseline', fontsize=59, fontweight='bold')

# separator between the rows
fig.add_artist(plt.Line2D([308 / W, 3553 / W], [1 - 1085 / H, 1 - 1085 / H], color='#555555', lw=1.6))

fig.savefig('out.png', dpi=100, facecolor='white')
